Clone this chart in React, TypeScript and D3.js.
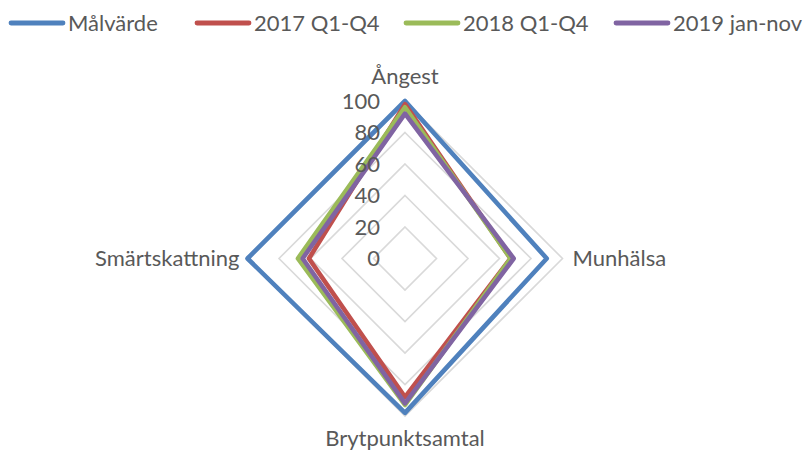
import React from "react";
import * as d3 from "d3";

const categories = ["Ångest", "Munhälsa", "Brytpunktsamtal", "Smärtskattning"];
const seriesNames = ["Målvärde", "2017 Q1-Q4", "2018 Q1-Q4", "2019 jan-nov"];
const malvarde = [100, 90, 98, 100];
const q2017 = [98, 67, 88, 61];
const q2018 = [96, 67, 93, 68];
const jan2019 = [92, 69, 92, 65];
const ticks = [0, 20, 40, 60, 80, 100];

const colors = ["#4F81BD", "#C0504D", "#9BBB59", "#8064A2"];
const font = "Lato, 'Open Sans', sans-serif";
const textColor = "#595959";

export default function App() {
    const width = 811, height = 450;
    const cx = 405, cy = 258.5, radius = 157.5;

    const r = d3.scaleLinear().domain([0, 100]).range([0, radius]);
    const angle = (i: number) => (i * 2 * Math.PI) / categories.length;

    const line = d3.lineRadial<number>()
        .angle((d, i) => angle(i))
        .radius(d => r(d))
        .curve(d3.curveLinearClosed);

    const allSeries = [malvarde, q2017, q2018, jan2019];

    // legend item x positions (line start)
    const legendX = [9, 195, 404, 614];

    const labelPos = [
        { x: cx, y: cy - radius - 25, anchor: "middle" },
        { x: cx + radius + 10, y: cy, anchor: "start" },
        { x: cx, y: cy + radius + 22, anchor: "middle" },
        { x: cx - radius - 8, y: cy, anchor: "end" },
    ];

    return (
        <svg width={width} height={height}
            style={{ position: "absolute", left: 0, top: 0, background: "#fff" }}>
            <g transform={`translate(${cx},${cy})`}>
                {ticks.slice(1).map(t => (
                    <path key={t}
                        d={line(categories.map(() => t)) || ""}
                        fill="none" stroke="#D9D9D9" strokeWidth={1.6} />
                ))}
                {allSeries.map((s, k) => (
                    <path key={k} d={line(s) || ""} fill="none"
                        stroke={colors[k]} strokeWidth={4.6} strokeLinejoin="round" />
                ))}
                {ticks.map(t => (
                    <text key={t} x={-25} y={-r(t)} dy="0.35em" textAnchor="end"
                        fontFamily={font} fontSize={22} fill={textColor}>{t}</text>
                ))}
            </g>
            {categories.map((c, i) => (
                <text key={c} x={labelPos[i].x} y={labelPos[i].y} dy="0.35em"
                    textAnchor={labelPos[i].anchor as any}
                    fontFamily={font} fontSize={22} fill={textColor}>{c}</text>
            ))}
            {seriesNames.map((n, k) => (
                <g key={n} transform={`translate(${legendX[k]},23)`}>
                    <line x1={2} x2={54} y1={0} y2={0} stroke={colors[k]}
                        strokeWidth={4.8} strokeLinecap="round" />
                    <text x={59} y={0} dy="0.35em" fontFamily={font} fontSize={22}
                        fill={textColor}>{n}</text>
                </g>
            ))}
        </svg>
    );
}
